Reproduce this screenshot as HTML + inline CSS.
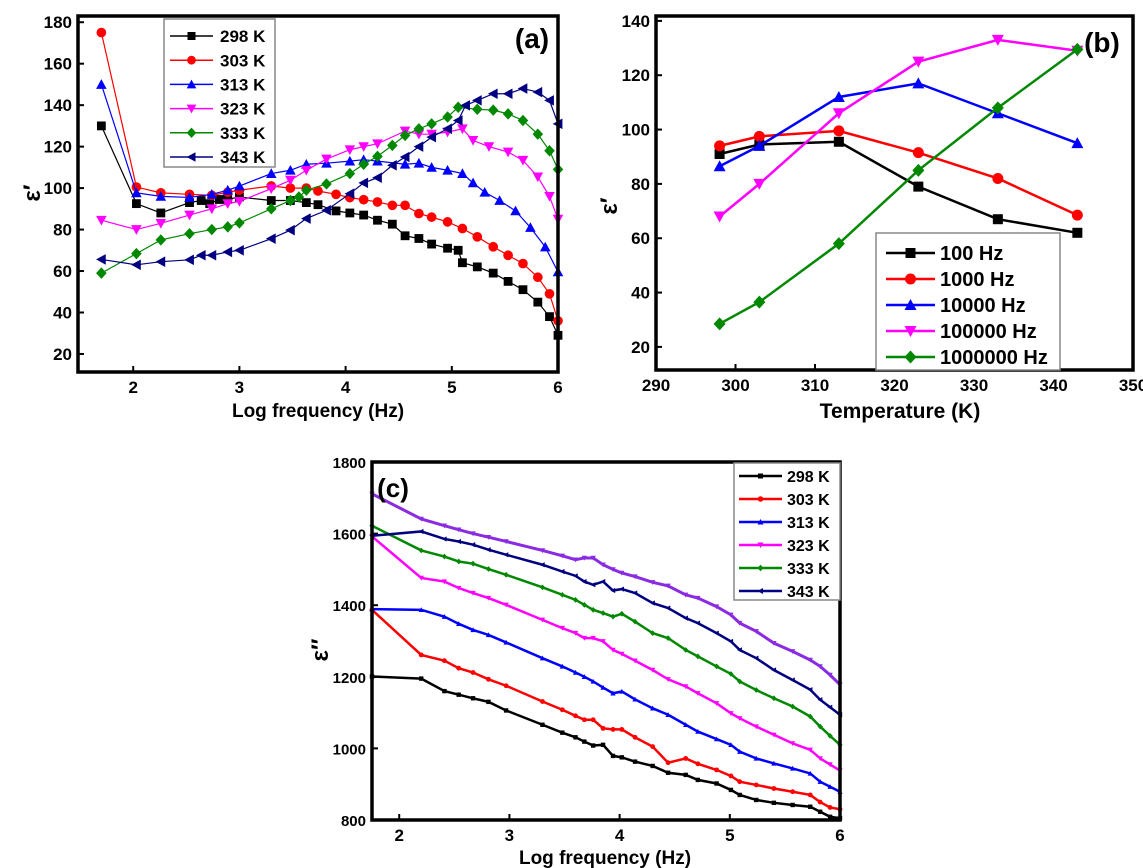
<!DOCTYPE html>
<html><head><meta charset="utf-8"><style>
body{margin:0;background:#fff;width:1143px;height:868px;overflow:hidden;}
svg{display:block;font-family:"Liberation Sans",Arial,sans-serif;font-weight:bold;}
</style></head><body>
<svg id="fig" width="1143" height="868" viewBox="0 0 1143 868"></svg>
<script>
// ---------- Panel (a) data ----------
const aLabels=["298 K","303 K","313 K","323 K","333 K","343 K"];
const aX298=[1.70,2.03,2.26,2.53,2.64,2.72,2.81,2.89,3.0,3.3,3.48,3.63,3.74,3.91,4.04,4.17,4.3,4.44,4.56,4.69,4.81,4.96,5.06,5.1,5.24,5.39,5.53,5.67,5.81,5.92,6.0];
const aY298=[130,92.5,88,93,94,92.5,94.5,94.6,95.7,94,94,93,92,89,88,87,84.5,82.6,77,75.7,73,71,70,64,62,59,55,51,45,38,29];
const aX303=[1.70,2.03,2.26,2.53,2.74,2.89,3.0,3.3,3.48,3.63,3.74,3.91,4.04,4.17,4.3,4.44,4.56,4.69,4.81,4.96,5.1,5.24,5.39,5.53,5.67,5.81,5.92,6.0];
const aY303=[175,100.5,97.7,97,96.5,98,99,101,100,100,98.6,97,95.4,94.4,93.3,91.7,91.7,87.7,86,83.7,80.5,76.5,71.7,67.6,63.6,57,49,36];
const aX313=[1.70,2.03,2.26,2.53,2.74,2.89,3.0,3.3,3.48,3.63,3.82,4.04,4.17,4.3,4.56,4.69,4.81,4.96,5.1,5.2,5.31,5.45,5.6,5.74,5.88,6.0];
const aY313=[150,97.7,96,95.5,97,99,101,107,108.6,111.5,112,113,113.7,113,111.5,112,110,108.6,107,102.5,98,94,89,81,71.6,59.6];
const aX323=[1.70,2.03,2.26,2.53,2.74,2.89,3.0,3.3,3.48,3.63,3.82,4.04,4.17,4.3,4.56,4.69,4.81,4.96,5.1,5.2,5.35,5.53,5.67,5.81,5.92,6.0];
const aY323=[84.5,80,83,87,90,92.5,93.6,99.7,103.8,108.6,114,118.5,120,121.4,127.5,126,126,127,128.6,123,120,117.4,113.4,105.4,96,85];
const aX333=[1.70,2.03,2.26,2.53,2.74,2.89,3.0,3.3,3.48,3.56,3.63,3.82,4.04,4.17,4.3,4.44,4.56,4.69,4.81,4.96,5.06,5.24,5.39,5.53,5.67,5.81,5.92,6.0];
const aY333=[59,68.4,75,78,80,81.3,83.2,90,94,95.7,99,102,107,111.5,115.3,120.6,125.4,128.6,131,134.3,139,138,137.6,135.8,132.6,126,118,109];
const aX343=[1.70,2.03,2.26,2.53,2.64,2.74,2.89,3.0,3.3,3.48,3.63,3.82,4.04,4.17,4.3,4.44,4.56,4.69,4.81,4.96,5.06,5.13,5.24,5.39,5.53,5.67,5.81,5.92,6.0];
const aY343=[65.6,63,64.5,65.4,67.6,67.6,69.2,70,75.6,79.7,85.3,89.3,97.3,102.5,105,111,115,120,124.6,128.6,132.6,139.9,142.3,145.5,145.5,148,146.3,142.3,131];
const aXTicks=[2,3,4,5,6];
const aYTicks=[20,40,60,80,100,120,140,160,180];
// ---------- Panel (b) data ----------
const bTemps=[298,303,313,323,333,343];
const bLabels=["100 Hz","1000 Hz","10000 Hz","100000 Hz","1000000 Hz"];
const b100=[91,94.5,95.5,79,67,62];
const b1000=[94,97.5,99.5,91.5,82,68.5];
const b10000=[86.5,94,112,117,106,95];
const b100000=[68,80,106,125,133,129];
const b1000000=[28.5,36.5,58,85,108,129.5];
const bXTicks=[290,300,310,320,330,340,350];
const bYTicks=[20,40,60,80,100,120,140];
// ---------- Panel (c) data ----------
const cLabels=["298 K","303 K","313 K","323 K","333 K","343 K"];
const cX=[1.753,2.2,2.41,2.54,2.67,2.81,2.97,3.3,3.48,3.6,3.68,3.76,3.85,3.94,4.02,4.14,4.3,4.44,4.6,4.71,4.88,5.01,5.09,5.24,5.4,5.57,5.73,5.82,5.91,6.0];
const c298=[1201,1195,1160,1150,1140,1130,1106,1066,1044,1031,1019,1008,1010,979,975,963,951,932,926,912,902,884,870,856,848,842,837,823,809,805];
const c303=[1387,1261,1245,1224,1212,1193,1175,1131,1108,1091,1080,1080,1056,1053,1053,1031,1005,960,972,957,940,923,907,898,888,879,870,850,835,830];
const c313=[1389,1387,1368,1348,1331,1317,1296,1252,1229,1212,1200,1187,1170,1154,1159,1137,1112,1094,1066,1047,1026,1010,991,972,958,944,930,907,893,879];
const c323=[1592,1476,1466,1448,1434,1420,1401,1359,1336,1322,1308,1308,1299,1275,1264,1245,1219,1193,1173,1154,1126,1098,1084,1061,1038,1014,996,972,955,938];
const c333=[1622,1553,1536,1522,1516,1501,1485,1450,1429,1415,1401,1387,1378,1368,1376,1354,1322,1308,1275,1257,1229,1208,1187,1163,1140,1117,1089,1061,1035,1010];
const c343=[1594,1606,1585,1578,1569,1555,1541,1513,1494,1482,1466,1457,1466,1441,1445,1434,1406,1392,1364,1350,1322,1299,1275,1252,1219,1191,1164,1136,1115,1094];
const cExtra=[1711,1641,1622,1611,1600,1590,1578,1553,1538,1527,1532,1532,1513,1500,1490,1480,1464,1454,1429,1420,1396,1373,1350,1327,1294,1271,1247,1229,1205,1178];
const cXTicks=[2,3,4,5,6];
const cYTicks=[800,1000,1200,1400,1600,1800];

const NS="http://www.w3.org/2000/svg";
const fig=document.getElementById('fig');
function mk(tag,attrs,parent){const e=document.createElementNS(NS,tag);for(const k in attrs)e.setAttribute(k,attrs[k]);(parent||fig).appendChild(e);return e;}
function txt(s,x,y,size,anchor,parent){const t=mk('text',{x:x,y:y,'font-size':size,'text-anchor':anchor||'middle',fill:'#000'},parent);t.textContent=s;return t;}
function marker(g,shape,x,y,s,color){
  let e;
  if(shape==='square'){e=mk('rect',{x:x-s,y:y-s,width:2*s,height:2*s,fill:color},g);}
  else if(shape==='circle'){e=mk('circle',{cx:x,cy:y,r:s*1.1,fill:color},g);}
  else if(shape==='up'){e=mk('polygon',{points:`${x},${y-s*1.2} ${x-s*1.2},${y+s} ${x+s*1.2},${y+s}`,fill:color},g);}
  else if(shape==='down'){e=mk('polygon',{points:`${x},${y+s*1.2} ${x-s*1.2},${y-s} ${x+s*1.2},${y-s}`,fill:color},g);}
  else if(shape==='diamond'){e=mk('polygon',{points:`${x},${y-s*1.3} ${x+s*1.2},${y} ${x},${y+s*1.3} ${x-s*1.2},${y}`,fill:color},g);}
  else {e=mk('polygon',{points:`${x-s*1.2},${y} ${x+s},${y-s*1.2} ${x+s},${y+s*1.2}`,fill:color},g);}
  
  
}
function axes(cfg){
  const g=mk('g',{});
  
  
  const sx=v=>cfg.L+(v-cfg.x0)/(cfg.x1-cfg.x0)*(cfg.R-cfg.L);
  const sy=v=>cfg.B-(v-cfg.y0)/(cfg.y1-cfg.y0)*(cfg.B-cfg.T);
  cfg.xt.forEach(v=>{const x=sx(v);mk('line',{x1:x,x2:x,y1:cfg.B,y2:cfg.B-6,stroke:'#000','stroke-width':2},g);
    const t=txt(String(v),x,cfg.B+21,17,'middle',g);});
  cfg.yt.forEach(v=>{const y=sy(v);mk('line',{x1:cfg.L,x2:cfg.L+6,y1:y,y2:y,stroke:'#000','stroke-width':2},g);
    const t=txt(String(v),cfg.L-6,y+6,cfg.ytSize||17,'end',g);});
  return {g,sx,sy};
}
function frame(g,c){const r=mk('rect',{x:c.L,y:c.T,width:c.R-c.L,height:c.B-c.T,fill:'none',stroke:'#000','stroke-width':3.5},g);
  }
function series(ax,xs,ys,color,shape,ms,lw,name){
  const g=mk('g',{},ax.g);
  
  
  const pts=xs.map((x,i)=>ax.sx(x)+','+ax.sy(ys[i])).join(' ');
  mk('polyline',{points:pts,fill:'none',stroke:color,'stroke-width':lw},g);
  if(ms>0)xs.forEach((x,i)=>marker(g,shape,ax.sx(x),ax.sy(ys[i]),ms,color));
}
function legend(g,x,y,w,h,labels,colors,shapes,lx1,lx2,tx,y0,dy,fs,ms,lw,name){
  const lg=mk('g',{},g);
  
  
  mk('rect',{x:x,y:y,width:w,height:h,fill:'#fff',stroke:'#888','stroke-width':1.5},lg);
  labels.forEach((l,i)=>{const yy=y0+i*dy;
    const e=mk('g',{},lg);
    
    
    mk('line',{x1:lx1,x2:lx2,y1:yy,y2:yy,stroke:colors[i],'stroke-width':lw},e);
    marker(e,shapes[i],(lx1+lx2)/2,yy,ms,colors[i]);
    txt(l,tx,yy+fs*0.36,fs,'start',e);});
}
const colA=['#000','#f00','#00f','#f0f','#080','#000080'];
const shA=['square','circle','up','down','diamond','left'];
// Panel a
const ca={name:'panel-a',L:78,R:558,T:16,B:372,x0:1.48,x1:6,y0:11.3,y1:183,xt:aXTicks,yt:aYTicks};
const A=axes(ca);
const aXs=[aX298,aX303,aX313,aX323,aX333,aX343],aYs=[aY298,aY303,aY313,aY323,aY333,aY343];
aXs.forEach((xs,i)=>series(A,xs,aYs[i],colA[i],shA[i],4.4,1.2,'series-'+aLabels[i].replace(' K','k')));
frame(A.g,ca);
legend(A.g,164,19,111,148,aLabels,colA,shA,170,213,220,36,24.2,17,4,1.5,'legend-a');
txt('(a)',532,48,28,'middle',A.g);
let t=txt('Log frequency (Hz)',318,417,19,'middle',A.g);
t=txt('ε′',0,0,24,'middle',A.g);t.setAttribute('transform','translate(40,193) rotate(-90)');
// Panel b
const cb={name:'panel-b',L:656,R:1133,T:16,B:370,x0:290,x1:350,y0:11.5,y1:141.8,xt:bXTicks,yt:bYTicks};
const Bx=axes(cb);
const bYs=[b100,b1000,b10000,b100000,b1000000];
const colB=['#000','#f00','#00f','#f0f','#080'];
const shB=['square','circle','up','down','diamond'];
bYs.forEach((ys,i)=>series(Bx,bTemps,ys,colB[i],shB[i],5,2.5,'series-'+bLabels[i].replace(' Hz','hz')));
frame(Bx.g,cb);
legend(Bx.g,876,233,184,137,bLabels,colB,shB,886,935,940,253,26,20,5,2.5,'legend-b');
txt('(b)',1102,52,28,'middle',Bx.g);
t=txt('Temperature (K)',900,418,21,'middle',Bx.g);
t=txt('ε′',0,0,24,'middle',Bx.g);t.setAttribute('transform','translate(617,206) rotate(-90)');
// Panel c
const cc={name:'panel-c',L:372,R:840,T:462,B:820,x0:1.753,x1:6,y0:800,y1:1800,xt:cXTicks,yt:cYTicks,ytSize:15};
const C=axes(cc);
const cYs=[c298,c303,c313,c323,c333,c343];
const colC=['#000','#f00','#00f','#f0f','#080','#000080'];
series(C,cX,cExtra,'#8a2be2','down',2.2,3,'series-extra');
cYs.forEach((ys,i)=>series(C,cX,ys,colC[i],shA[i],2.2,2.5,'series-'+cLabels[i].replace(' K','k')));
frame(C.g,cc);
legend(C.g,734,463,106,137,cLabels,colC,shA,739,782,787,476,23,16,2.5,2.5,'legend-c');
txt('(c)',393,497,26,'middle',C.g);
t=txt('Log frequency (Hz)',605,864,19,'middle',C.g);
t=txt('ε″',0,0,24,'middle',C.g);t.setAttribute('transform','translate(328,650) rotate(-90)');
</script>
</body></html>
